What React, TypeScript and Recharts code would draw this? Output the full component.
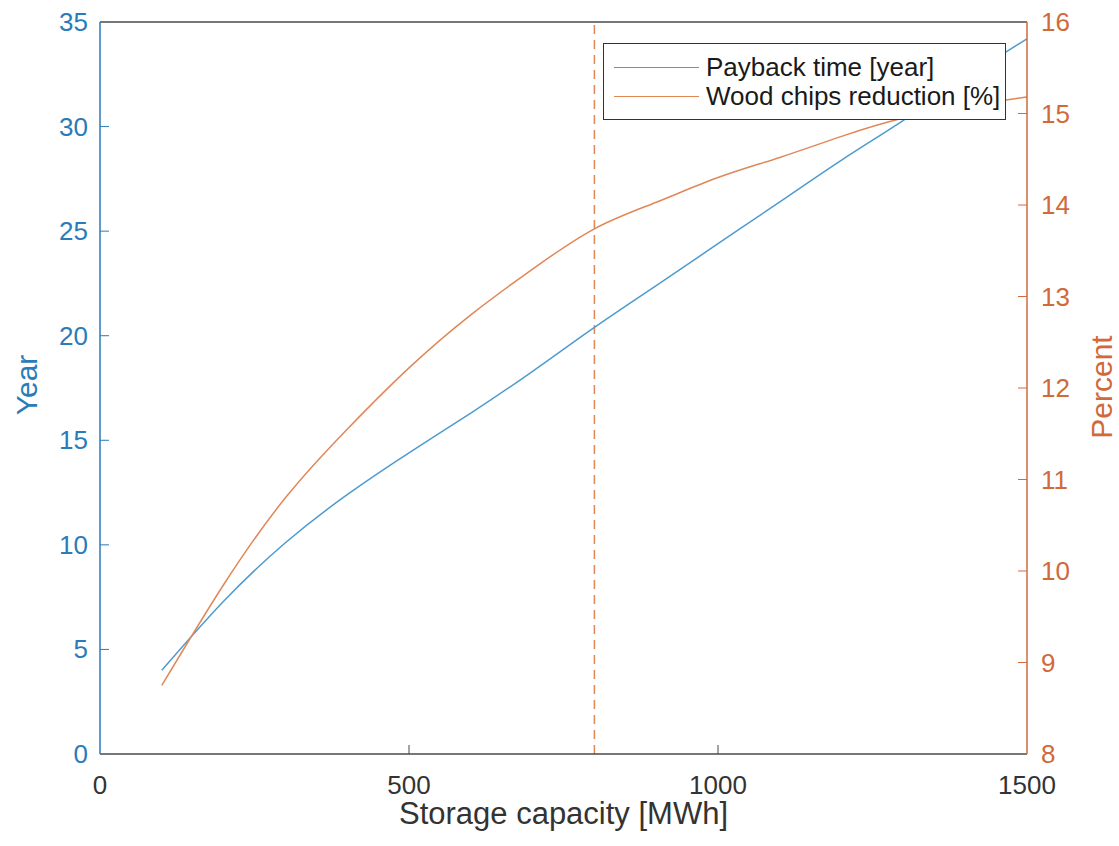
import { LineChart, Line, XAxis, YAxis, ReferenceLine, Label } from "recharts";

// storage capacity [MWh]
const capacity = [100, 200, 300, 400, 500, 600, 700, 800, 900, 1000, 1100, 1200, 1300, 1400, 1500];
// payback time [year]
const payback = [4.0, 7.3, 10.1, 12.4, 14.4, 16.3, 18.3, 20.4, 22.4, 24.4, 26.4, 28.4, 30.3, 32.3, 34.2];
// wood chips reduction [%]
const woodChips = [8.75, 9.85, 10.8, 11.55, 12.22, 12.8, 13.3, 13.74, 14.03, 14.3, 14.52, 14.75, 14.95, 15.08, 15.18];

const xTicks = [0, 500, 1000, 1500];
const yearTicks = [0, 5, 10, 15, 20, 25, 30, 35];
const percentTicks = [8, 9, 10, 11, 12, 13, 14, 15, 16];
const selectedCapacity = 800;

const legendItems = ["Payback time [year]", "Wood chips reduction [%]"];

const data = capacity.map((c, i) => ({ capacity: c, payback: payback[i], wood: woodChips[i] }));

const FONT = "'Liberation Sans', Arial, sans-serif";
const BLUE_TEXT = "#2a7bb9";
const BLUE_LINE = "#4d9bd0";
const ORANGE_TEXT = "#d06a3a";
const ORANGE_LINE = "#e08758";
const GRAY = "#4a4a4a";
const TICK_LEN = 9;

const LeftTick = (props: any) => {
  const { x, y, payload } = props;
  const ax = x + 12;
  return (
    <g>
      {payload.value !== 0 && payload.value !== 35 && (
        <line x1={ax} y1={y} x2={ax + TICK_LEN} y2={y} stroke={BLUE_TEXT} strokeWidth={1} />
      )}
      <text x={x} y={y} dy={9} textAnchor="end" fill={BLUE_TEXT} fontSize={26} fontFamily={FONT}>
        {payload.value}
      </text>
    </g>
  );
};

const RightTick = (props: any) => {
  const { x, y, payload } = props;
  const ax = x - 14;
  return (
    <g>
      {payload.value !== 8 && payload.value !== 16 && (
        <line x1={ax} y1={y} x2={ax - TICK_LEN} y2={y} stroke={ORANGE_TEXT} strokeWidth={1} />
      )}
      <text x={x} y={y} dy={9} textAnchor="start" fill={ORANGE_TEXT} fontSize={26} fontFamily={FONT}>
        {payload.value}
      </text>
    </g>
  );
};

const BottomTick = (props: any) => {
  const { x, y, payload } = props;
  const ay = y - 12;
  return (
    <g>
      {payload.value !== 0 && payload.value !== 1500 && (
        <line x1={x} y1={ay} x2={x} y2={ay - TICK_LEN} stroke={GRAY} strokeWidth={1} />
      )}
      <text x={x} y={y} dy={28} textAnchor="middle" fill="#333" fontSize={26} fontFamily={FONT}>
        {payload.value}
      </text>
    </g>
  );
};

const LegendBox = () => (
  <div
    style={{
      position: "absolute",
      left: 603,
      top: 43,
      width: 403,
      height: 77,
      border: "1px solid #333",
      background: "#fff",
      boxSizing: "border-box",
      fontFamily: FONT,
      fontSize: 26,
      color: "#1a1a1a",
      paddingTop: 9,
    }}
  >
    {legendItems.map((name, i) => (
      <div key={name} style={{ display: "flex", alignItems: "center", height: 29, lineHeight: "29px" }}>
        <div
          style={{
            width: 85,
            height: 0,
            borderTop: `1.5px solid ${i === 0 ? BLUE_LINE : ORANGE_LINE}`,
            marginLeft: 10,
            marginRight: 7,
          }}
        />
        <span>{name}</span>
      </div>
    ))}
  </div>
);

export default function App() {
  return (
    <div style={{ position: "absolute", left: 0, top: 0, width: 1119, height: 846, background: "#fff" }}>
      <LineChart width={1119} height={846} data={data} margin={{ top: 22, right: 32, bottom: 32, left: 40 }}>
        <XAxis
          dataKey="capacity"
          type="number"
          domain={[0, 1500]}
          ticks={xTicks}
          tickSize={0}
          tickMargin={12}
          tick={BottomTick}
          height={60}
          axisLine={{ stroke: GRAY, strokeWidth: 1.5 }}
          interval={0}
        >
          <Label
            content={({ viewBox }: any) => (
              <text
                x={viewBox.x + viewBox.width / 2}
                y={viewBox.y + 70}
                textAnchor="middle"
                fill="#333"
                fontSize={31}
                fontFamily={FONT}
              >
                Storage capacity [MWh]
              </text>
            )}
          />
        </XAxis>
        <YAxis
          yAxisId="left"
          domain={[0, 35]}
          ticks={yearTicks}
          tickSize={0}
          tickMargin={12}
          tick={LeftTick}
          width={60}
          axisLine={{ stroke: BLUE_TEXT, strokeWidth: 1.5 }}
          interval={0}
        >
          <Label
            content={({ viewBox }: any) => {
              const cx = viewBox.x - 3;
              const cy = viewBox.y + viewBox.height / 2 - 3;
              return (
                <text
                  x={cx}
                  y={cy}
                  transform={`rotate(-90 ${cx} ${cy})`}
                  textAnchor="middle"
                  fill={BLUE_TEXT}
                  fontSize={30}
                  fontFamily={FONT}
                >
                  Year
                </text>
              );
            }}
          />
        </YAxis>
        <YAxis
          yAxisId="right"
          orientation="right"
          domain={[8, 16]}
          ticks={percentTicks}
          tickSize={0}
          tickMargin={14}
          tick={RightTick}
          width={60}
          axisLine={{ stroke: ORANGE_TEXT, strokeWidth: 1.5 }}
          interval={0}
        >
          <Label
            content={({ viewBox }: any) => {
              const cx = viewBox.x + viewBox.width + 25;
              const cy = viewBox.y + viewBox.height / 2 - 1;
              return (
                <text
                  x={cx}
                  y={cy}
                  transform={`rotate(-90 ${cx} ${cy})`}
                  textAnchor="middle"
                  fill={ORANGE_TEXT}
                  fontSize={30}
                  fontFamily={FONT}
                >
                  Percent
                </text>
              );
            }}
          />
        </YAxis>
        {/* top edge of the axes box */}
        <ReferenceLine yAxisId="left" y={35} stroke={GRAY} strokeWidth={1.5} />
        <ReferenceLine
          yAxisId="left"
          x={selectedCapacity}
          stroke={ORANGE_LINE}
          strokeWidth={1.5}
          strokeDasharray="9 6"
        />
        <Line
          yAxisId="left"
          type="natural"
          dataKey="payback"
          stroke={BLUE_LINE}
          strokeWidth={1.5}
          dot={false}
          isAnimationActive={false}
        />
        <Line
          yAxisId="right"
          type="natural"
          dataKey="wood"
          stroke={ORANGE_LINE}
          strokeWidth={1.5}
          dot={false}
          isAnimationActive={false}
        />
      </LineChart>
      <LegendBox />
    </div>
  );
}
